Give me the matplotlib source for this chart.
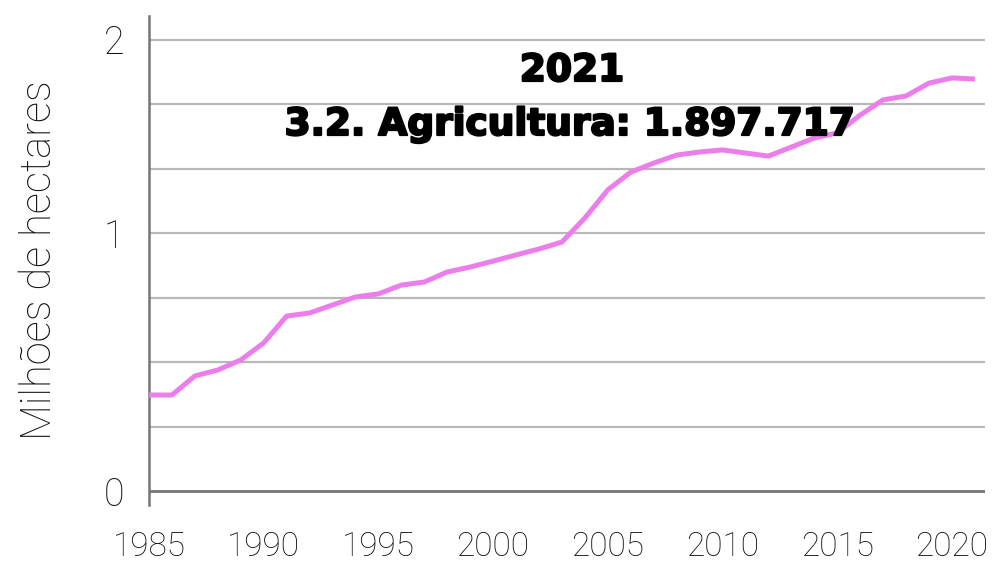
import matplotlib
matplotlib.use('Agg')
import matplotlib.pyplot as plt
import matplotlib.patheffects as pe

# Área de agricultura (milhões de hectares)
years = list(range(1985, 2022))
area = [0.372, 0.372, 0.446, 0.469, 0.508, 0.574, 0.678, 0.690, 0.721, 0.752,
        0.764, 0.798, 0.810, 0.849, 0.868, 0.891, 0.915, 0.938, 0.965, 1.058,
        1.167, 1.236, 1.271, 1.302, 1.314, 1.322, 1.310, 1.298, 1.333, 1.368,
        1.388, 1.457, 1.516, 1.531, 1.581, 1.601, 1.597]

x_ticks = [1985, 1990, 1995, 2000, 2005, 2010, 2015, 2020]
y_ticks = [0, 1, 1.75]
y_tick_labels = ['0', '1', '2']
grid_levels = [0.25, 0.5, 0.75, 1.0, 1.25, 1.5, 1.75]

title_year = '2021'
title_text = '3.2. Agricultura: 1.897.717'
y_label = 'Milhões de hectares'

light_font = 'Roboto'
heavy_font = 'DejaVu Sans'

W, H = 997, 564
fig = plt.figure(figsize=(W / 100, H / 100), dpi=100)
ax = fig.add_axes([149 / W, 1 - 505 / H, (985 - 149) / W, (505 - 16) / H])

ax.set_xlim(1985, 1985 + (985 - 149) / 22.94)
ax.set_ylim(-14 / 258, (491 - 16) / 258)

for g in grid_levels:
    ax.axhline(g, color='#b8b8b8', lw=1.6, zorder=1)
ax.axhline(0, color='#767676', lw=2.0, zorder=2)

ax.plot(years, area, color='#ec7eec', lw=3.6, solid_joinstyle='round',
        solid_capstyle='butt', zorder=3)

for side in ['top', 'right', 'bottom']:
    ax.spines[side].set_visible(False)
ax.spines['left'].set_color('#767676')
ax.spines['left'].set_linewidth(1.8)

ax.set_xticks(x_ticks)
ax.set_xticklabels([str(t) for t in x_ticks])
ax.set_yticks(y_ticks)
ax.set_yticklabels(y_tick_labels)
ax.tick_params(axis='x', length=0, pad=18.5, labelsize=24)
ax.tick_params(axis='y', length=0, pad=18, labelsize=27)
for lab in ax.get_xticklabels() + ax.get_yticklabels():
    lab.set_family(light_font)
    lab.set_weight('light')
    lab.set_color('#111111')

fig.text(40 / W, 1 - 260 / H, y_label, rotation=90, ha='center', va='center',
         fontsize=30, family=light_font, weight='light', color='#111111')

heavy = [pe.withStroke(linewidth=1.6, foreground='black')]
fig.text(572 / W, 1 - 71 / H, title_year, ha='center', va='center',
         fontsize=27, family=heavy_font, weight='bold', color='black',
         path_effects=heavy, zorder=5)
fig.text(570 / W, 1 - 125 / H, title_text, ha='center', va='center',
         fontsize=27, family=heavy_font, weight='bold', color='black',
         path_effects=heavy, zorder=5)

fig.savefig('out.png', dpi=100)
